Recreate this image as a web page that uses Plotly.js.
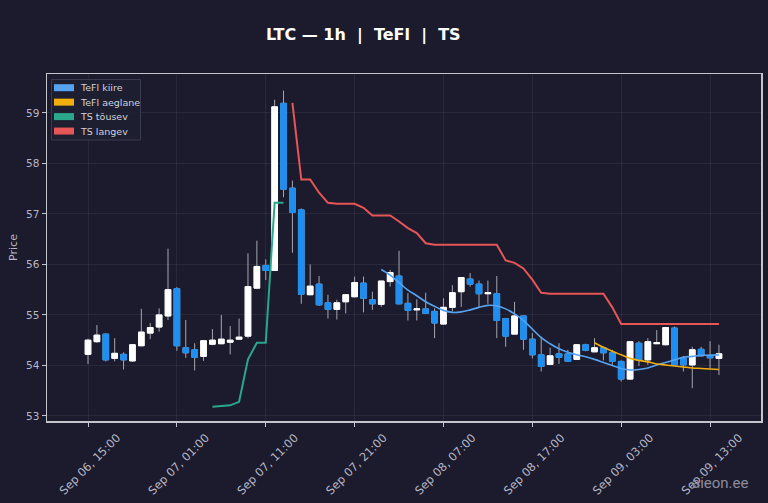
<!DOCTYPE html>
<html>
<head>
<meta charset="utf-8">
<script src="https://cdn.plot.ly/plotly-3.0.1.min.js"></script>
<style>
  html, body { margin: 0; padding: 0; background: #1b1b2d; }
  #chart { width: 768px; height: 503px; }
</style>
</head>
<body>
<div id="chart"></div>
<script>
// hourly candles, first one at Sep 06 15:00
var START = Date.UTC(2025, 8, 6, 15);

var OPEN = [54.22, 54.47, 54.62, 54.14, 54.22, 54.09, 54.39, 54.64, 54.76, 54.98,
  55.52, 54.35, 54.31, 54.18, 54.42, 54.43, 54.46, 54.52, 54.58, 55.53,
  55.98, 55.88, 59.19, 57.51, 57.08, 55.40, 55.61, 55.24, 55.11, 55.26,
  55.36, 55.63, 55.30, 55.21, 55.66, 55.77, 55.23, 55.10, 55.12, 55.07,
  54.82, 55.15, 55.46, 55.71, 55.61, 55.42, 55.42, 54.93, 54.62, 54.98,
  54.52, 54.21, 54.02, 54.23, 54.23, 54.12, 54.41, 54.27, 54.35, 54.25,
  54.08, 53.73, 54.44, 54.11, 54.43, 54.41, 54.74, 54.14, 54.01, 54.32,
  54.20, 54.14];
var HIGH = [54.53, 54.80, 54.63, 54.54, 54.26, 54.42, 55.12, 54.84, 55.13, 56.31,
  55.55, 54.90, 54.44, 54.50, 54.72, 55.00, 54.78, 54.93, 56.22, 56.47,
  56.10, 59.26, 59.44, 57.66, 57.11, 56.00, 55.77, 55.40, 55.30, 55.41,
  55.76, 55.76, 55.46, 55.68, 55.89, 56.27, 55.43, 55.31, 55.44, 55.13,
  55.33, 55.59, 55.75, 55.83, 55.68, 55.68, 55.77, 54.94, 55.26, 54.99,
  54.64, 54.57, 54.35, 54.44, 54.31, 54.42, 54.43, 54.54, 54.37, 54.31,
  54.10, 54.48, 54.48, 54.54, 54.70, 54.76, 54.77, 54.19, 54.37, 54.37,
  54.48, 54.41];
var LOW = [54.03, 54.45, 54.08, 54.08, 53.92, 54.07, 54.38, 54.52, 54.67, 54.90,
  54.29, 54.15, 53.90, 54.09, 54.40, 54.42, 54.22, 54.51, 54.54, 55.52,
  55.69, 55.87, 57.33, 56.23, 55.22, 55.39, 55.18, 54.93, 54.91, 55.03,
  55.35, 55.05, 55.10, 55.16, 55.56, 55.21, 54.89, 54.89, 55.02, 54.54,
  54.81, 55.07, 55.16, 55.56, 55.15, 55.22, 54.54, 54.37, 54.61, 54.31,
  54.14, 53.88, 54.01, 54.03, 54.07, 54.11, 54.28, 54.26, 54.10, 54.01,
  53.68, 53.72, 53.99, 54.01, 54.43, 54.40, 54.00, 53.88, 53.55, 54.18,
  53.94, 53.81];
var CLOSE = [54.50, 54.60, 54.11, 54.24, 54.11, 54.41, 54.66, 54.75, 55.00, 55.50,
  54.39, 54.25, 54.16, 54.49, 54.50, 54.52, 54.50, 54.56, 55.56, 55.96,
  55.88, 59.12, 57.49, 57.03, 55.41, 55.57, 55.20, 55.11, 55.24, 55.40,
  55.64, 55.33, 55.22, 55.67, 55.84, 55.22, 55.09, 55.12, 55.03, 54.84,
  55.15, 55.44, 55.74, 55.61, 55.42, 55.44, 54.89, 54.58, 54.98, 54.52,
  54.21, 53.98, 54.19, 54.16, 54.08, 54.41, 54.30, 54.35, 54.25, 54.08,
  53.73, 54.47, 54.11, 54.47, 54.45, 54.75, 54.01, 54.01, 54.31, 54.19,
  54.15, 54.23];

// indicator lines, each starts at a candle index
var FAST_START = 33;
var TEFL_FAST = [55.90, 55.79, 55.64, 55.49, 55.38, 55.26, 55.17, 55.09, 55.05, 55.06,
  55.10, 55.15, 55.19, 55.18, 55.12, 55.02, 54.89, 54.72, 54.55, 54.43,
  54.33, 54.26, 54.21, 54.17, 54.12, 54.06, 54.00, 53.94, 53.91, 53.92,
  53.95, 54.01, 54.06, 54.11, 54.16, 54.18, 54.20, 54.20, 54.21];
var SLOW_START = 57;
var TEFL_SLOW = [54.45, 54.36, 54.28, 54.21, 54.14, 54.10, 54.07, 54.03, 54.01, 53.99,
  53.97, 53.95, 53.94, 53.93, 53.92];
var UP_START = 14;
var TS_UP = [53.18, 53.20, 53.21, 53.28, 54.12, 54.45, 54.45, 57.22, 57.22];
var DOWN_START = 23;
var TS_DOWN = [59.20, 57.68, 57.68, 57.42, 57.22, 57.20, 57.20, 57.20, 57.12, 56.97,
  56.97, 56.97, 56.85, 56.72, 56.62, 56.42, 56.39, 56.39, 56.39, 56.39,
  56.39, 56.39, 56.39, 56.39, 56.08, 56.03, 55.92, 55.70, 55.44, 55.42,
  55.42, 55.42, 55.42, 55.42, 55.42, 55.42, 55.15, 54.82, 54.82, 54.82,
  54.82, 54.82, 54.82, 54.82, 54.82, 54.82, 54.82, 54.82, 54.82];

var LEGEND_NAMES = ["TeFl kiire", "TeFl aeglane", "TS tõusev", "TS langev"];

var C_BG = "#1b1b2d";
var C_UP = "#ffffff";
var C_DOWN = "#1e8ff0";
var C_FAST = "#56a3f2";
var C_SLOW = "#f2ae0c";
var C_TSUP = "#2aa88b";
var C_TSDOWN = "#e65656";
var C_TEXT = "#b7b7c6";
var LEGEND_COLORS = [C_FAST, C_SLOW, C_TSUP, C_TSDOWN];

// plot box in pixels, used to put the hand made legend in paper coords
var PL = 47, PR = 761, PT = 74, PB = 421;
function px(x) { return (x - PL) / (PR - PL); }
function py(y) { return (PB - y) / (PB - PT); }

function hourStr(i) {
  return new Date(START + i * 3600e3).toISOString().slice(0, 16).replace("T", " ");
}

var times = OPEN.map(function (v, i) { return hourStr(i); });

function xsFrom(start, arr) {
  return arr.map(function (v, i) { return times[start + i]; });
}

var bodyHigh = OPEN.map(function (o, i) { return Math.max(o, CLOSE[i]); });
var bodyLow = OPEN.map(function (o, i) { return Math.min(o, CLOSE[i]); });

var wicks = {
  type: "candlestick",
  x: times, open: OPEN, high: HIGH, low: LOW, close: CLOSE,
  increasing: { line: { color: "#a6a6b0", width: 1 }, fillcolor: "rgba(0,0,0,0)" },
  decreasing: { line: { color: "#a6a6b0", width: 1 }, fillcolor: "rgba(0,0,0,0)" },
  hoverinfo: "skip"
};
var bodies = {
  type: "candlestick",
  x: times, open: OPEN, high: bodyHigh, low: bodyLow, close: CLOSE,
  increasing: { line: { color: C_UP, width: 1 }, fillcolor: C_UP },
  decreasing: { line: { color: C_DOWN, width: 1 }, fillcolor: C_DOWN }
};

function lineTrace(start, arr, color, width, shape) {
  return {
    type: "scatter", mode: "lines",
    x: xsFrom(start, arr), y: arr,
    line: { color: color, width: width, shape: shape }
  };
}

var traces = [
  wicks, bodies,
  lineTrace(UP_START, TS_UP, C_TSUP, 2, "linear"),
  lineTrace(DOWN_START, TS_DOWN, C_TSDOWN, 2, "linear"),
  lineTrace(FAST_START, TEFL_FAST, C_FAST, 1.6, "spline"),
  lineTrace(SLOW_START, TEFL_SLOW, C_SLOW, 1.6, "spline")
];

// legend drawn by hand: plotly's own rows are too tall
var shapes = [{
  type: "rect", xref: "paper", yref: "paper", layer: "above",
  x0: px(51.5), x1: px(140.5), y0: py(140), y1: py(79.5),
  fillcolor: "rgba(31,31,51,0.85)", line: { color: "#3b3b50", width: 1 }
}];
var annotations = [];
LEGEND_NAMES.forEach(function (name, i) {
  var cy = 87.7 + i * 14.45;
  shapes.push({
    type: "rect", xref: "paper", yref: "paper", layer: "above",
    x0: px(54), x1: px(74), y0: py(cy + 3.5), y1: py(cy - 3.5),
    fillcolor: LEGEND_COLORS[i], line: { width: 0 }
  });
  annotations.push({
    text: name, showarrow: false, xref: "paper", yref: "paper",
    x: px(78), y: py(cy), xanchor: "left", yanchor: "middle",
    font: { family: "DejaVu Sans", size: 9.5, color: "#d2d2dc" }
  });
});
annotations.push({
  text: "aieon.ee", showarrow: false,
  xref: "paper", yref: "paper", x: 0.986, y: -0.18,
  xanchor: "right", yanchor: "middle",
  font: { family: "Roboto", size: 15, color: "#8c8c9c" }
});

var layout = {
  width: 768, height: 503,
  margin: { l: PL, r: 768 - PR, t: PT, b: 503 - PB },
  paper_bgcolor: C_BG,
  plot_bgcolor: C_BG,
  font: { family: "DejaVu Sans", color: C_TEXT, size: 11 },
  title: {
    text: "LTC — 1h \u00a0|\u00a0 TeFl \u00a0|\u00a0 TS",
    font: { family: "DejaVu Sans", size: 16, color: "#ffffff", weight: "bold" },
    xref: "container", x: 0.473, xanchor: "center",
    yref: "container", y: 0.932, yanchor: "middle"
  },
  boxgap: 0.36, boxgroupgap: 0,
  showlegend: false,
  xaxis: {
    type: "date",
    range: ["2025-09-06 10:23", "2025-09-09 18:44"],
    rangeslider: { visible: false },
    tick0: "2025-09-06 15:00", dtick: 36e6,
    tickformat: "%b %d, %H:%M", tickangle: -45,
    ticklabelshift: 29,
    ticks: "outside", ticklen: 4, tickcolor: "#c4c4cc",
    showgrid: true, gridcolor: "rgba(255,255,255,0.06)",
    showline: true, linecolor: "#c4c4cc", linewidth: 1.5, mirror: true,
    zeroline: false,
    tickfont: { size: 11.5, color: C_TEXT }
  },
  yaxis: {
    range: [52.9, 59.77],
    dtick: 1,
    ticks: "outside", ticklen: 4, tickcolor: "#c4c4cc",
    showgrid: true, gridcolor: "rgba(255,255,255,0.06)",
    showline: true, linecolor: "#c4c4cc", linewidth: 1.5, mirror: true,
    zeroline: false,
    tickfont: { size: 10.5, color: C_TEXT },
    title: { text: "Price", font: { size: 11, color: C_TEXT }, standoff: 6 }
  },
  shapes: shapes,
  annotations: annotations
};

Plotly.newPlot("chart", traces, layout, { displayModeBar: false, staticPlot: true });
</script>
</body>
</html>
